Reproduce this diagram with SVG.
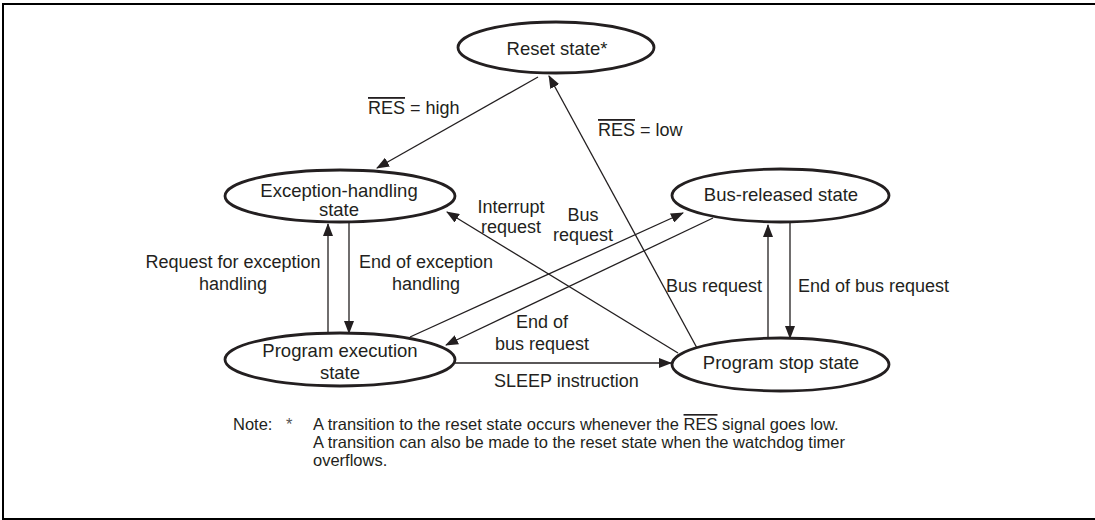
<svg xmlns="http://www.w3.org/2000/svg" width="1095" height="520" viewBox="0 0 1095 520">
<defs>
<marker id="ah" markerWidth="13" markerHeight="10" refX="12" refY="5" orient="auto" markerUnits="userSpaceOnUse">
<path d="M0,0 L13,5 L0,10 Z" fill="#231f20"/>
</marker>
<style>
.node{fill:#fff;stroke:#231f20;stroke-width:2.8}
.nt{font-family:"Liberation Sans",Arial,sans-serif;font-size:18.5px;fill:#231f20;text-anchor:middle}
.lb{font-family:"Liberation Sans",Arial,sans-serif;font-size:18px;fill:#231f20}
.mid{text-anchor:middle}
.note{font-family:"Liberation Sans",Arial,sans-serif;font-size:16.5px;fill:#231f20}
.c{stroke:#231f20;stroke-width:1.3;fill:none}
.ol{text-decoration:overline}
</style>
</defs>
<rect x="3" y="4" width="1094" height="515" fill="#fff" stroke="#000" stroke-width="2"/>

<g id="connectors">
<line class="c" x1="538" y1="77" x2="377" y2="168" marker-end="url(#ah)"/>
<line class="c" x1="697" y1="348" x2="549" y2="76" marker-end="url(#ah)"/>
<line class="c" x1="328" y1="332" x2="328" y2="224" marker-end="url(#ah)"/>
<line class="c" x1="349" y1="222" x2="349" y2="333" marker-end="url(#ah)"/>
<line class="c" x1="678" y1="353" x2="447" y2="212" marker-end="url(#ah)"/>
<line class="c" x1="410" y1="337" x2="683" y2="213" marker-end="url(#ah)"/>
<line class="c" x1="713" y1="218" x2="446" y2="345" marker-end="url(#ah)"/>
<line class="c" x1="768" y1="338" x2="768" y2="225" marker-end="url(#ah)"/>
<line class="c" x1="790" y1="222" x2="790" y2="338" marker-end="url(#ah)"/>
<line class="c" x1="455" y1="363" x2="671" y2="363" marker-end="url(#ah)"/>
</g>

<g id="labels">
<text class="lb" x="368" y="114"><tspan class="ol">RES</tspan> = high</text>
<text class="lb" x="598" y="136"><tspan class="ol">RES</tspan> = low</text>
<text class="lb mid" x="233" y="268">Request for exception</text>
<text class="lb mid" x="233" y="290">handling</text>
<text class="lb mid" x="426" y="268">End of exception</text>
<text class="lb mid" x="426" y="290">handling</text>
<text class="lb mid" x="511" y="213">Interrupt</text>
<text class="lb mid" x="511" y="233">request</text>
<text class="lb mid" x="583" y="221">Bus</text>
<text class="lb mid" x="583" y="241">request</text>
<text class="lb mid" x="542" y="328">End of</text>
<text class="lb mid" x="542" y="350">bus request</text>
<text class="lb" x="494" y="387">SLEEP instruction</text>
<text class="lb" x="666" y="292">Bus request</text>
<text class="lb" x="798" y="292">End of bus request</text>
</g>

<g id="reset">
<ellipse class="node" cx="556" cy="47.5" rx="98" ry="25.5"/>
<text class="nt" x="557" y="55">Reset state*</text>
</g>
<g id="exception">
<ellipse class="node" cx="340" cy="196" rx="115" ry="26"/>
<text class="nt" x="339" y="197">Exception-handling</text>
<text class="nt" x="339" y="216">state</text>
</g>
<g id="program-execution">
<ellipse class="node" cx="340" cy="359.5" rx="115" ry="26.5"/>
<text class="nt" x="340" y="357">Program execution</text>
<text class="nt" x="340" y="378.5">state</text>
</g>
<g id="bus-released">
<ellipse class="node" cx="780.5" cy="195.5" rx="108.5" ry="26.5"/>
<text class="nt" x="781" y="201">Bus-released state</text>
</g>
<g id="program-stop">
<ellipse class="node" cx="780.5" cy="364.5" rx="108.5" ry="26.5"/>
<text class="nt" x="781" y="369">Program stop state</text>
</g>

<g id="note">
<text class="note" x="233" y="430">Note:</text>
<text class="note" x="286" y="430" style="fill:#555">*</text>
<text class="note" x="313" y="430">A transition to the reset state occurs whenever the <tspan class="ol">RES</tspan> signal goes low.</text>
<text class="note" x="313" y="448">A transition can also be made to the reset state when the watchdog timer</text>
<text class="note" x="313" y="466">overflows.</text>
</g>
</svg>
